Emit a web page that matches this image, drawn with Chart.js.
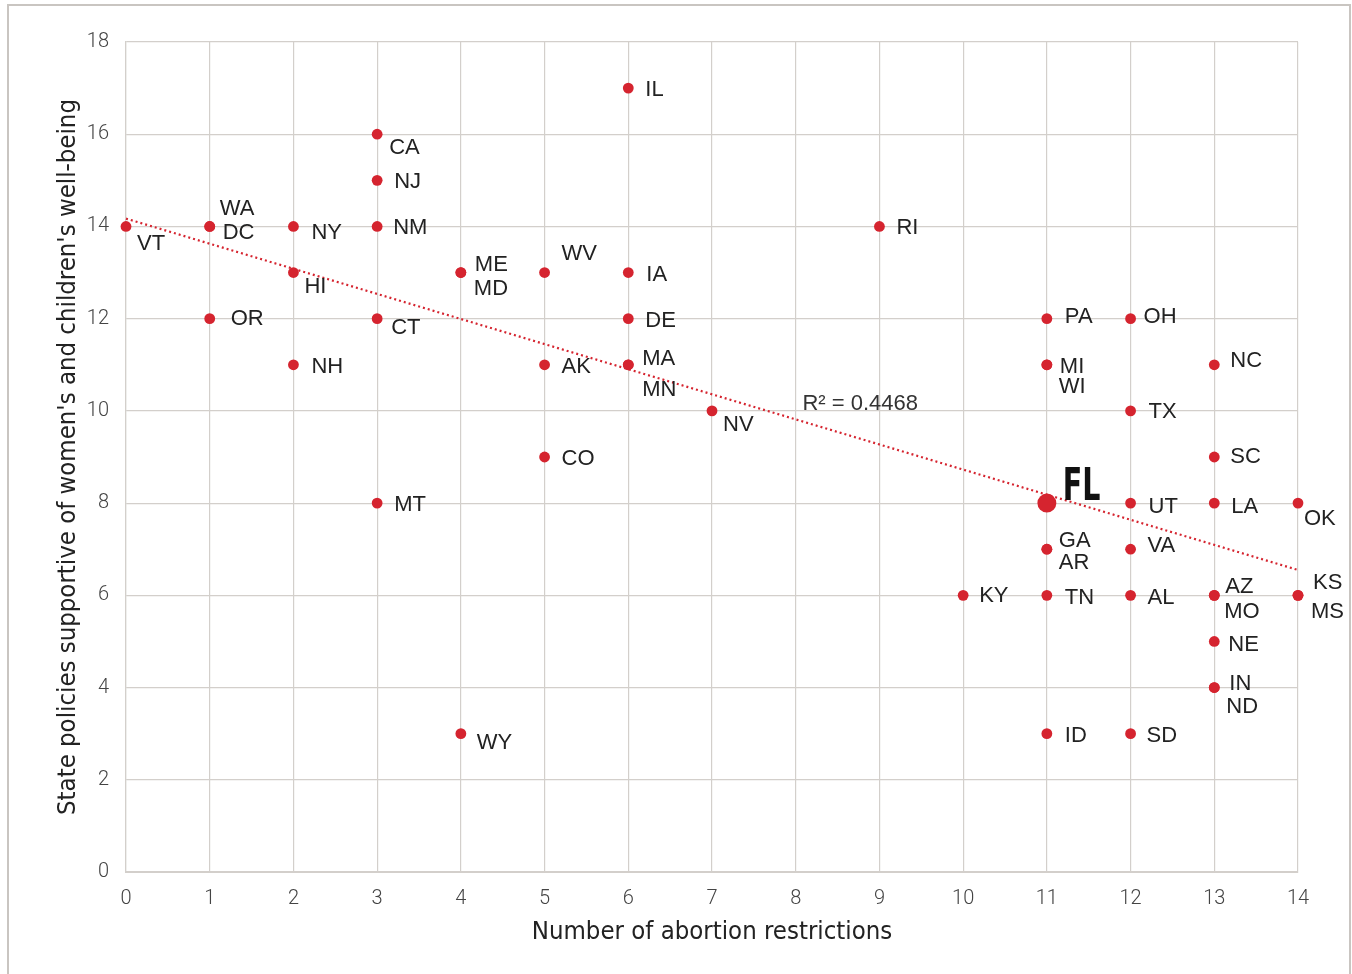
<!DOCTYPE html>
<html>
<head>
<meta charset="utf-8">
<script src="https://cdn.jsdelivr.net/npm/chart.js@4.4.1/dist/chart.umd.min.js"></script>
<style>
    html, body { margin:0; padding:0; background:#fff; }
    #wrap { position:relative; width:1352px; height:974px; }
    #frame {
        position:absolute; left:7px; top:4px; width:1340px; height:980px;
        border:2px solid #c9c5c1; pointer-events:none;
    }
</style>
</head>
<body>
<div id="wrap">
    <canvas id="scatter" width="1352" height="974"></canvas>
    <div id="frame"></div>
</div>
<script>

const states = [
    "VT","WA","DC","OR","NY","HI","NH","CA","NJ","NM","CT","MT",
    "ME","MD","WY","WV","AK","CO","IL","IA","DE","MA","MN","NV",
    "RI","KY","PA","MI","WI","FL","GA","AR","TN","ID","OH","TX",
    "UT","VA","AL","SD","NC","SC","LA","AZ","MO","NE","IN","ND",
    "OK","KS","MS"
];

const restrictions = [
    0,1,1,1,2,2,2,3,3,3,3,3,
    4,4,4,5,5,5,6,6,6,6,6,7,
    9,10,11,11,11,11,11,11,11,11,12,12,
    12,12,12,12,13,13,13,13,13,13,13,13,
    14,14,14
];

const policies = [
    14,14,14,12,14,13,11,16,15,14,12,8,
    13,13,3,13,11,9,17,13,12,11,11,10,
    14,6,12,11,11,8,7,7,6,3,12,10,
    8,7,6,3,11,9,8,6,6,5,4,4,
    8,6,6
];

// trend line (ends at x = 0 and x = 14)
const trendX = [0, 14];
const trendY = [14.17, 6.55];
const rSquared = "R\u00b2 = 0.4468";

const xTicks = [0,1,2,3,4,5,6,7,8,9,10,11,12,13,14];
const yTicks = [0,2,4,6,8,10,12,14,16,18];

const highlight = "FL";

// label placement, px from the dot (text left edge, text middle)
const labelOffsets = {
    VT:[11,17], WA:[10,-18], DC:[13,6], OR:[21,0], NY:[18,6], HI:[11,14],
    NH:[18,2], CA:[12,14], NJ:[17,2], NM:[16,1], CT:[14,9], MT:[17,2],
    ME:[14,-8], MD:[13,16], WY:[16,9], WV:[17,-19], AK:[17,2], CO:[17,2],
    IL:[17,2], IA:[18,2], DE:[17,2], MA:[14,-6], MN:[14,25], NV:[11,14],
    RI:[17,1], KY:[16,1], PA:[18,-2], MI:[13,2], WI:[12,22], FL:[16,-15],
    GA:[12,-8], AR:[12,14], TN:[18,3], ID:[18,2], OH:[13,-2], TX:[18,1],
    UT:[18,4], VA:[17,-3], AL:[17,3], SD:[16,2], NC:[16,-4], SC:[16,0],
    LA:[17,4], AZ:[11,-8], MO:[10,17], NE:[14,3], IN:[15,-4], ND:[12,19],
    OK:[6,16], KS:[15,-12], MS:[13,17]
};

const red = "#d5242f";
const gridColor = "#d3cfcb";
const titleFont = "'DejaVu Sans Condensed', 'Liberation Sans Narrow', sans-serif";

const points = states.map((s,i) => ({ x: restrictions[i], y: policies[i], state: s }));
const trend = trendX.map((x,i) => ({ x: x, y: trendY[i] }));

const stateLabels = {
    id: "stateLabels",
    afterDatasetsDraw(chart) {
        const ctx = chart.ctx;
        const xs = chart.scales.x;
        const ys = chart.scales.y;
        ctx.save();
        ctx.textBaseline = "middle";
        ctx.textAlign = "left";
        points.forEach(p => {
            const off = labelOffsets[p.state] || [14,0];
            const px = xs.getPixelForValue(p.x) + off[0];
            const py = ys.getPixelForValue(p.y) + off[1];
            if (p.state === highlight) {
                ctx.save();
                ctx.translate(px, py);
                ctx.scale(0.72, 1);
                ctx.fillStyle = "#111";
                ctx.font = "bold 44px 'Liberation Sans Narrow', 'DejaVu Sans Condensed', sans-serif";
                ctx.fillText(p.state, 0, 0);
                ctx.restore();
            } else {
                ctx.fillStyle = "#222";
                ctx.font = "22px 'Liberation Sans', Arial, sans-serif";
                ctx.fillText(p.state, px, py);
            }
        });
        ctx.fillStyle = "#333";
        ctx.font = "22px 'Liberation Sans', Arial, sans-serif";
        ctx.fillText(rSquared, xs.getPixelForValue(8.08), ys.getPixelForValue(10.15));
        ctx.restore();
    }
};

new Chart(document.getElementById("scatter"), {

    type: "scatter",

    data: {

        datasets: [{

            label: "Trend",
            type: "line",
            data: trend,
            borderColor: red,
            borderWidth: 2.2,
            borderDash: [2, 3],
            pointRadius: 0,
            fill: false,
            clip: false,
            order: 2

        }, {

            label: "States",
            data: points,
            backgroundColor: red,
            borderWidth: 0,
            pointRadius: points.map(p => p.state === highlight ? 9.5 : 5.4),
            clip: false,
            order: 1

        }]

    },

    plugins: [stateLabels],

    options: {

        responsive: false,
        animation: false,
        devicePixelRatio: 1,

        layout: {
            padding: { left: 0, right: 54, top: 42, bottom: 0 }
        },

        plugins: {
            legend: { display: false },
            tooltip: { enabled: false }
        },

        scales: {

            x: {
                type: "linear",
                min: 0,
                max: 14,
                afterBuildTicks: axis => { axis.ticks = xTicks.map(v => ({ value: v })); },
                afterFit: axis => { axis.height = 102; },
                grid: { color: gridColor, lineWidth: 1.2, drawTicks: false },
                border: { color: gridColor, width: 2 },
                ticks: {
                    padding: 15,
                    color: "#444",
                    font: { family: "Roboto", weight: "300", size: 20 }
                },
                title: {
                    display: true,
                    text: "Number of abortion restrictions",
                    color: "#222",
                    padding: { top: 0, bottom: 26 },
                    font: { family: titleFont, size: 25.5 }
                }
            },

            y: {
                type: "linear",
                min: 0,
                max: 18,
                afterBuildTicks: axis => { axis.ticks = yTicks.map(v => ({ value: v })); },
                afterFit: axis => { axis.width = 126; },
                grid: { color: gridColor, lineWidth: 1.2, drawTicks: false },
                border: { color: gridColor, width: 1.2 },
                ticks: {
                    padding: 17,
                    color: "#444",
                    font: { family: "Roboto", weight: "300", size: 20 }
                },
                title: {
                    display: true,
                    text: "State policies supportive of women's and children's well-being",
                    color: "#222",
                    padding: { top: 53, bottom: 0 },
                    font: { family: titleFont, size: 25.5 }
                }
            }

        }

    }

});
</script>
</body>
</html>
